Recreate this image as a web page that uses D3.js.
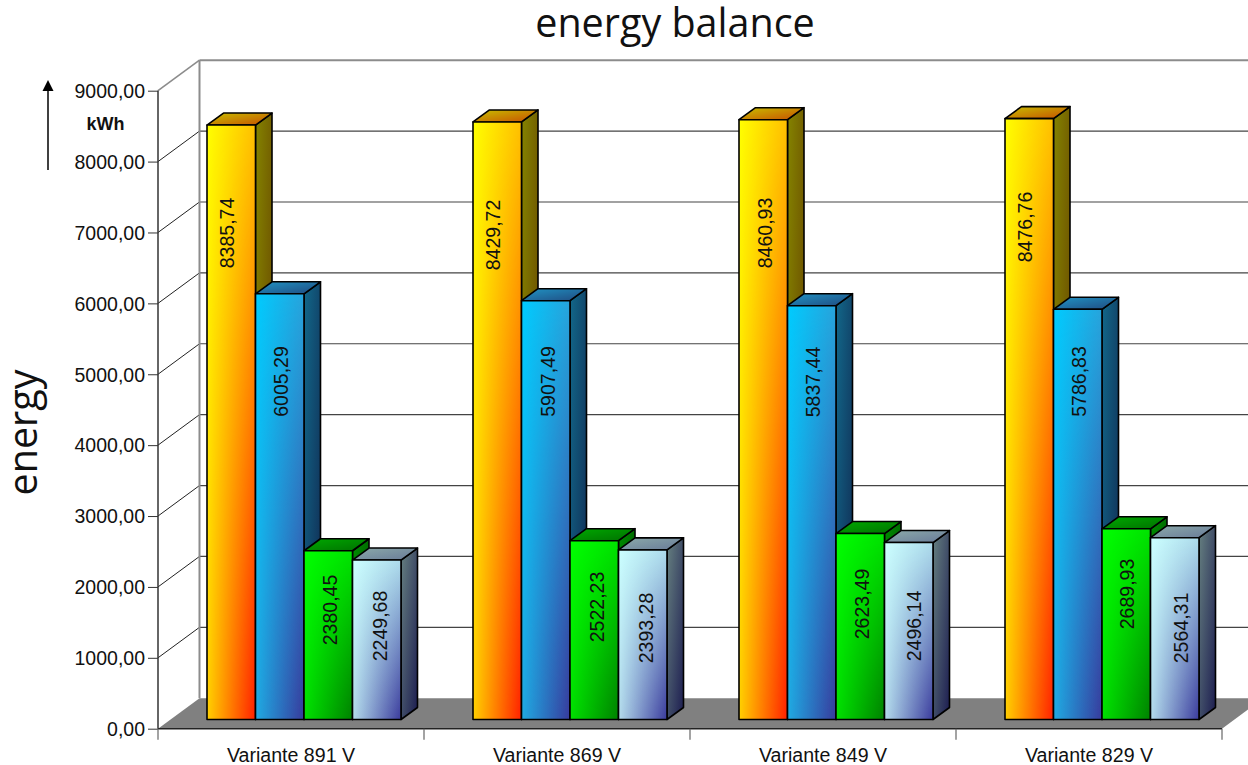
<!DOCTYPE html>
<html><head><meta charset="utf-8">
<script src="https://cdn.jsdelivr.net/npm/d3@7"></script>
<style>html,body{margin:0;padding:0;background:#fff;overflow:hidden}svg{display:block}text{font-family:"Liberation Sans",Arial,sans-serif;fill:#111}</style>
</head><body><svg id="chart" width="1248" height="765"></svg>
<script>
const categories = ["Variante 891 V","Variante 869 V","Variante 849 V","Variante 829 V"];
const seriesA = [8385.74,8429.72,8460.93,8476.76];
const seriesB = [6005.29,5907.49,5837.44,5786.83];
const seriesC = [2380.45,2522.23,2623.49,2689.93];
const seriesD = [2249.68,2393.28,2496.14,2564.31];
const tickValues = [0,1000,2000,3000,4000,5000,6000,7000,8000,9000];
const chartTitle = "energy balance";
const axisTitle = "energy";
const unitLabel = "kWh";

// Corner colours of each bar face: top-left, top-right, bottom-left, bottom-right
const palettes = [
  {front:["#ffff00","#ffc000","#ffd000","#ff2000"], top:["#c8c000","#c84e00"], side:["#848400","#664000"]},
  {front:["#00ccff","#28a4dc","#20aae2","#383a9c"], top:["#2094c4","#204a80"], side:["#12688a","#102850"]},
  {front:["#00ff00","#00e400","#00e000","#008000"], top:["#00aa00","#007000"], side:["#008c00","#005000"]},
  {front:["#ccffff","#aedcec","#b4dcec","#3a3a9c"], top:["#8caaaa","#687a98"], side:["#668080","#1c1c50"]}
];
// Hand-placed rotated labels: centre height and shift from the bar centre line
const labelCentres = [[233,235,233,227],[381.5,381.5,382,381.5],[610,607,604,594],[626,628,626,628]];
const labelShifts = [[2.5,3,9,3],[8,9,8.5,8.5],[9,10,9,8],[10,10,12,13]];

const fmt = v => v.toFixed(2).replace(".",",");
const svg = d3.select("#chart");
const defs = svg.append("defs");
// 3D projection offsets: wall depth and bar depth
const wall = {dx:41.5, dy:-30.5};
const depth = {dx:16.5, dy:-12};
const lift = 9.2;
const y = d3.scaleLinear().domain([0,9000]).range([728.7,90.7]);
const x0 = d3.scaleBand().domain(categories).range([158,1222]);
const x1 = d3.scaleBand().domain(d3.range(4)).range([49,243]);
const series = [seriesA,seriesB,seriesC,seriesD];

function gradient(id, colours, x2, y2){
  const g = defs.append("linearGradient").attr("id",id).attr("x1",0).attr("y1",0).attr("x2",x2).attr("y2",y2);
  g.selectAll("stop").data(colours).join("stop").attr("offset",(d,k)=>k/(colours.length-1)).attr("stop-color",d=>d);
}
// Vertical fade used to blend a bar's lower colours over its upper colours
const fade = defs.append("linearGradient").attr("id","fade").attr("x1",0).attr("y1",0).attr("x2",0).attr("y2",1);
fade.append("stop").attr("offset",0).attr("stop-color","#000");
fade.append("stop").attr("offset",1).attr("stop-color","#fff");
defs.append("mask").attr("id","fadeMask").attr("maskContentUnits","objectBoundingBox")
  .attr("x",0).attr("y",0).attr("width",1).attr("height",1)
  .append("rect").attr("width",1).attr("height",1).attr("fill","url(#fade)");

palettes.forEach((p,i)=>{
  gradient("frontUpper"+i,[p.front[0],p.front[1]],1,0);
  gradient("frontLower"+i,[p.front[2],p.front[3]],1,0);
  gradient("top"+i,p.top,1,1);
  gradient("side"+i,p.side,1,1);
});

const x = x0.range()[0], back = x + wall.dx, fR = x0.range()[1];
// Floor
svg.append("path").attr("d",`M${x},${y(0)}L${back},${y(0)+wall.dy}L${fR+wall.dx},${y(0)+wall.dy}L${fR},${y(0)}Z`).attr("fill","#808080");
// Back wall and side wall grid
const grid = svg.append("g").attr("fill","none");
tickValues.filter(t=>t>0).forEach(t=>{
  const yy = y(t), edge = t===9000;
  grid.append("line").attr("x1",back).attr("x2",1248).attr("y1",yy+wall.dy).attr("y2",yy+wall.dy).attr("stroke",edge?"#8c8c8c":"#444").attr("stroke-width",edge?2:1.2);
  grid.append("line").attr("x1",x).attr("x2",back).attr("y1",yy).attr("y2",yy+wall.dy).attr("stroke",edge?"#8c8c8c":"#222").attr("stroke-width",edge?1.6:1);
});
grid.append("line").attr("x1",back).attr("x2",back).attr("y1",y(9000)+wall.dy).attr("y2",y(0)+wall.dy).attr("stroke","#8c8c8c").attr("stroke-width",2);

// Bars
const bars = svg.append("g");
categories.forEach((c,ci)=>{
  series.forEach((vals,si)=>{
    const v = vals[ci];
    const l = x0(c)+x1(si), w = x1.bandwidth(), r = l+w;
    const b = y(0)-lift, t = y(v)-lift;
    const g = bars.append("g");
    const outline = s => s.attr("stroke","#000").attr("stroke-width",1.6).attr("stroke-linejoin","round");
    g.append("path").attr("d",`M${r},${t}L${r+depth.dx},${t+depth.dy}L${r+depth.dx},${b+depth.dy}L${r},${b}Z`).attr("fill",`url(#side${si})`).call(outline);
    g.append("path").attr("d",`M${l},${t}L${l+depth.dx},${t+depth.dy}L${r+depth.dx},${t+depth.dy}L${r},${t}Z`).attr("fill",`url(#top${si})`).call(outline);
    g.append("rect").attr("x",l).attr("y",t).attr("width",w).attr("height",b-t).attr("fill",`url(#frontUpper${si})`);
    g.append("g").attr("mask","url(#fadeMask)").append("rect").attr("x",l).attr("y",t).attr("width",w).attr("height",b-t).attr("fill",`url(#frontLower${si})`);
    g.append("rect").attr("x",l).attr("y",t).attr("width",w).attr("height",b-t).attr("fill","none").call(outline);
  });
});
// Value labels
categories.forEach((c,ci)=>{
  series.forEach((vals,si)=>{
    const cx = x0(c)+x1(si)+x1.bandwidth()/2;
    svg.append("text").attr("transform",`translate(${cx+labelShifts[si][ci]},${labelCentres[si][ci]}) rotate(-90)`)
      .attr("text-anchor","middle").attr("font-size",19.5).text(fmt(vals[ci]));
  });
});

// Value axis
const ax = svg.append("g").attr("transform",`translate(${x},0)`).call(d3.axisLeft(y).tickValues(tickValues).tickFormat(fmt).tickSize(10).tickPadding(3));
ax.selectAll("text").attr("font-size",19.5).attr("dy","0.35em").style("font-family",'"Liberation Sans",Arial,sans-serif').attr("fill","#111");
ax.selectAll("line").attr("stroke","#333");
ax.select(".domain").attr("stroke","#333").attr("stroke-width",1.5).attr("d",`M0,${y(0)}V${y(9000)}`);
// Category axis
const bx = svg.append("g").attr("transform",`translate(0,${y(0)})`).call(d3.axisBottom(x0).tickSize(0).tickPadding(0));
bx.select(".domain").attr("stroke","#222").attr("stroke-width",1.5).attr("d",`M${x},0H${fR}`);
bx.selectAll("text").attr("font-size",19.6).attr("y",33).attr("dy",0).style("font-family",'"Liberation Sans",Arial,sans-serif').attr("fill","#111");
svg.append("g").selectAll("line").data(d3.range(5)).join("line")
  .attr("x1",i=>x+i*x0.step()).attr("x2",i=>x+i*x0.step()).attr("y1",y(0)).attr("y2",y(0)+11).attr("stroke","#666").attr("stroke-width",1.2);

// Titles and unit marker
svg.append("text").attr("x",675).attr("y",37).attr("text-anchor","middle").attr("font-size",39.5).style("font-family",'"Open Sans",sans-serif').text(chartTitle);
svg.append("text").attr("transform","translate(37,432.5) rotate(-90)").attr("text-anchor","middle").attr("font-size",39.5).style("font-family",'"Open Sans",sans-serif').text(axisTitle);
svg.append("text").attr("x",105.5).attr("y",130).attr("text-anchor","middle").attr("font-size",18).attr("font-weight","bold").text(unitLabel);
svg.append("line").attr("x1",48).attr("x2",48).attr("y1",170).attr("y2",88).attr("stroke","#000").attr("stroke-width",1.5);
svg.append("path").attr("d","M48,80L53.5,91H42.5Z").attr("fill","#000");
</script></body></html>
